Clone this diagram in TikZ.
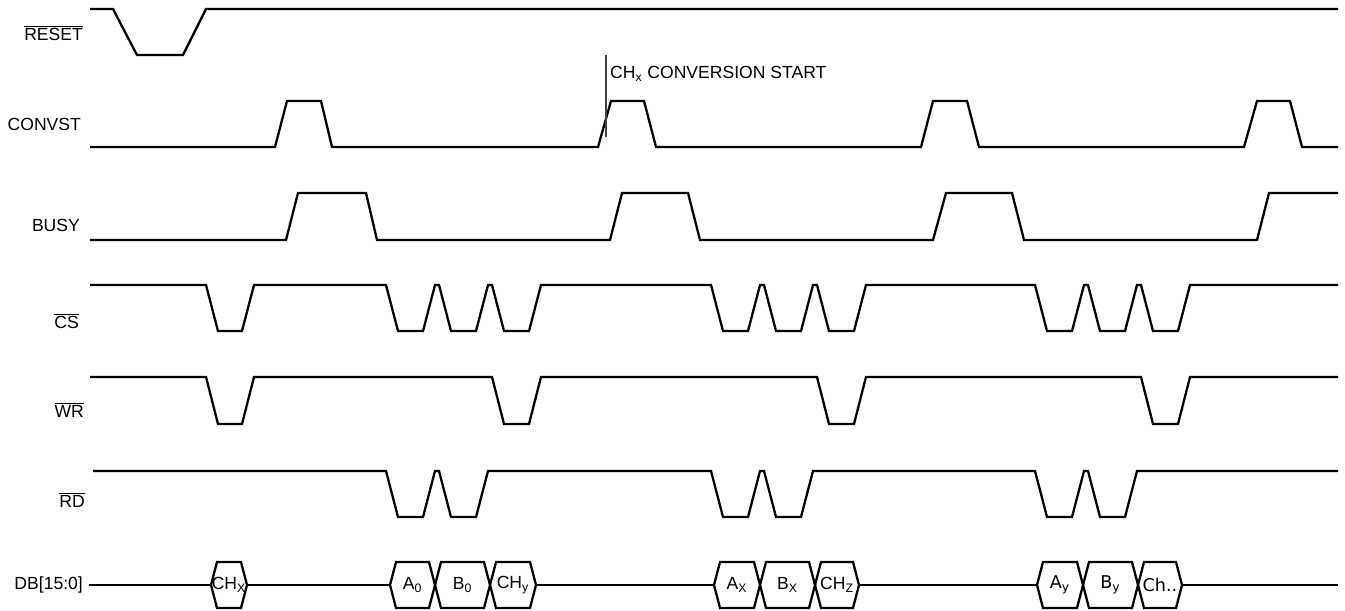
\documentclass[tikz,border=0pt]{standalone}
\usepackage{fontspec}
\setmainfont{Liberation Sans}
\newfontfamily\dejavu{DejaVu Sans}
\begin{document}
\begin{tikzpicture}[x=0.02cm, y=-0.02cm, line width=1.3pt, font=\fontsize{10}{12}\selectfont]
  \useasboundingbox (0,0) rectangle (1345,611);
  \tikzset{signame/.style={anchor=east, inner sep=0pt}}
  % signal names
  \node[signame] (nreset) at (84,33) {$\overline{\mbox{RESET}}$};
  \node[signame] (nconvst) at (82,124) {CONVST};
  \node[signame] (nbusy) at (81,225) {BUSY};
  \node[signame] (ncs) at (80,321) {$\overline{\mbox{CS}}$};
  \node[signame] (nwr) at (85,410) {$\overline{\mbox{WR}}$};
  \node[signame] (nrd) at (86,500) {$\overline{\mbox{RD}}$};
  \node[signame] (ndb) at (84,585) {DB[15:0]};
  % RESET
  \draw (90,9) -- (113,9) -- (137,55) -- (183,55) -- (206,9) -- (1338,9);
  % CONVST
  \draw (90,147) -- (275,147) -- (287,101) -- (321,101) -- (332,147)
    -- (598,147) -- (611,101) -- (644,101) -- (656,147)
    -- (921,147) -- (933,101) -- (967,101) -- (979,147)
    -- (1244,147) -- (1257,101) -- (1290,101) -- (1302,147) -- (1338,147);
  \draw[line width=0.6pt, black!75] (606,55) -- (606,137);
  \node[anchor=west, inner sep=0pt] (cstart) at (609,74) {CH\textsubscript{x} CONVERSION START};
  % BUSY
  \draw (90,240) -- (286,240) -- (298,193) -- (366,193) -- (377,240)
    -- (610,240) -- (622,193) -- (688,193) -- (700,240)
    -- (933,240) -- (946,193) -- (1012,193) -- (1024,240)
    -- (1257,240) -- (1269,193) -- (1338,193);
  % CS
  \draw (90,285) -- (206,285) -- (218,331) -- (242,331) -- (254,285)
    -- (386,285) -- (398,331) -- (423,331) -- (435,285) -- (439,285) -- (451,331) -- (476,331)
    -- (488,285) -- (492,285) -- (504,331) -- (529,331) -- (541,285)
    -- (711,285) -- (723,331) -- (748,331) -- (760,285) -- (764,285) -- (776,331) -- (801,331)
    -- (813,285) -- (817,285) -- (829,331) -- (854,331) -- (866,285)
    -- (1035,285) -- (1047,331) -- (1072,331) -- (1084,285) -- (1088,285) -- (1100,331) -- (1125,331)
    -- (1137,285) -- (1141,285) -- (1153,331) -- (1178,331) -- (1190,285) -- (1338,285);
  % WR
  \draw (90,377) -- (206,377) -- (218,424) -- (242,424) -- (254,377)
    -- (492,377) -- (504,424) -- (529,424) -- (541,377)
    -- (817,377) -- (829,424) -- (854,424) -- (866,377)
    -- (1141,377) -- (1153,424) -- (1178,424) -- (1190,377) -- (1338,377);
  % RD
  \draw (93,471) -- (386,471) -- (398,517) -- (423,517) -- (435,471) -- (439,471) -- (451,517) -- (476,517) -- (488,471)
    -- (711,471) -- (723,517) -- (748,517) -- (760,471) -- (764,471) -- (776,517) -- (801,517) -- (813,471)
    -- (1035,471) -- (1047,517) -- (1072,517) -- (1084,471) -- (1088,471) -- (1100,517) -- (1125,517) -- (1137,471)
    -- (1338,471);
  % DB[15:0]
  \draw (89,585) -- (211,585);
  \draw (247,585) -- (390,585);
  \draw (536,585) -- (714,585);
  \draw (859,585) -- (1037,585);
  \draw (1182,585) -- (1338,585);
  \foreach \l/\r/\t in {211/247/CH\textsubscript{X}, 390/435/A\textsubscript{0}, 435/490/B\textsubscript{0},
      490/536/CH\textsubscript{y}, 714/760/A\textsubscript{X}, 760/815/B\textsubscript{X}, 815/859/CH\textsubscript{Z},
      1037/1083/{\dejavu A\textsubscript{y}}, 1083/1138/{\dejavu B\textsubscript{y}}, 1138/1182/{\dejavu Ch..}}{
    \draw (\l,585) -- (\l+6,562) -- (\r-6,562) -- (\r,585) -- (\r-6,608) -- (\l+6,608) -- cycle;
    \node[inner sep=0pt] (db\l) at ({(\l+\r)/2},585) {\t};
  }
\end{tikzpicture}
\end{document}
